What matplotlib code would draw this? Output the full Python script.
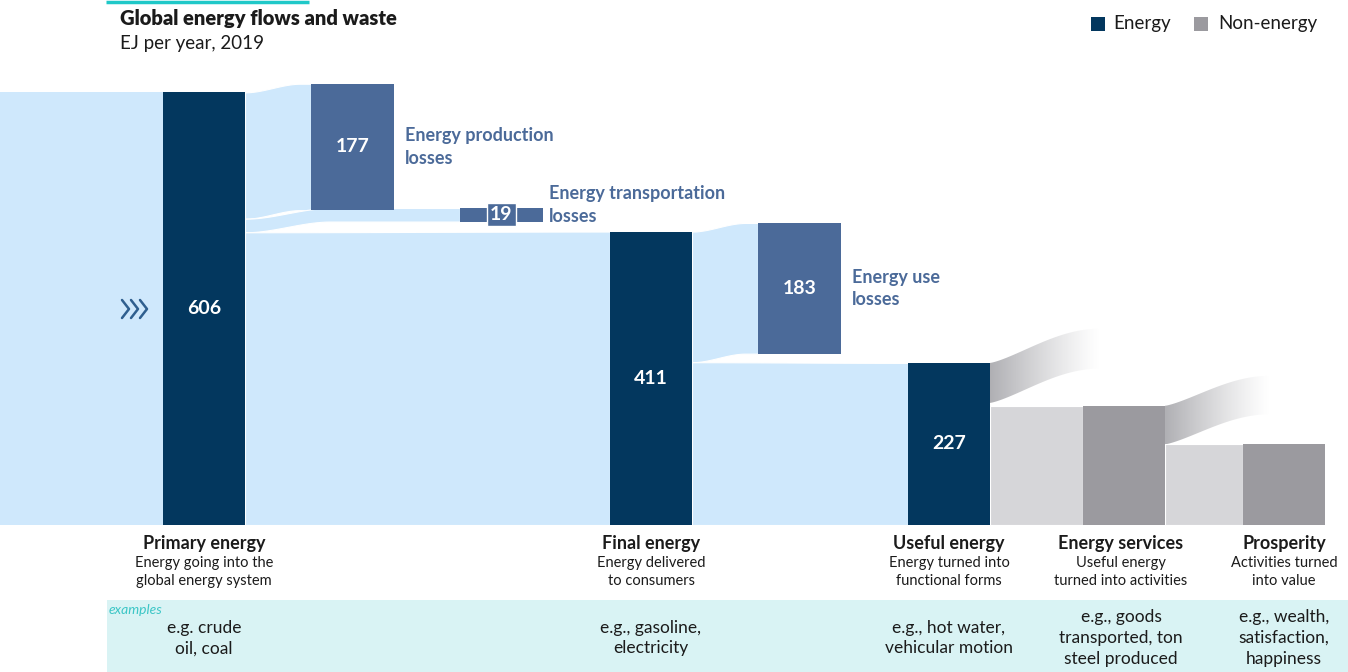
import numpy as np
import matplotlib
matplotlib.use("Agg")
import matplotlib.pyplot as plt
from matplotlib.patches import Polygon, Rectangle

plt.rcParams['font.family'] = ['Lato', 'DejaVu Sans']

# data (EJ per year, 2019)
stages = ['Primary energy', 'Final energy', 'Useful energy', 'Energy services', 'Prosperity']
stage_values = [606, 411, 227, 167, 113]   # last two unlabeled
stage_labeled = [True, True, True, False, False]
stage_desc = ['Energy going into the\nglobal energy system',
              'Energy delivered\nto consumers',
              'Energy turned into\nfunctional forms',
              'Useful energy\nturned into activities',
              'Activities turned\ninto value']
stage_examples = ['e.g. crude\noil, coal',
                  'e.g., gasoline,\nelectricity',
                  'e.g., hot water,\nvehicular motion',
                  'e.g., goods\ntransported, ton\nsteel produced',
                  'e.g., wealth,\nsatisfaction,\nhappiness']
loss_names = ['Energy production\nlosses', 'Energy transportation\nlosses', 'Energy use\nlosses']
loss_values = [177, 19, 183]

NAVY = '#03375e'
LOSS = '#4b6a99'
FLOW = '#cfe8fc'
GFLOW = '#d6d6d9'
GBAR = '#9b9a9f'
TXT = '#1b1b1b'

# layout (pixels across, EJ up)
K = 0.714          # px per EJ
BASE = 525         # baseline pixel row
def py(p):
    return (BASE - p) / K

stage_x = [163, 610, 908, 1083, 1243]
loss_x = [311, 460, 758]
W = 82
rise = 12

fig = plt.figure(figsize=(13.48, 6.72), dpi=100)
ax = fig.add_axes([0, 0, 1, 1])
ax.set_xlim(0, 1348)
ax.set_ylim(py(672), py(0))
ax.axis('off')


def band(x0, x1, b0, b1, h0, h1, xr=None, color=FLOW, edge='white', z=1):
    xs = np.linspace(x0, x1, 300)
    if xr is None:
        xr = x1
    t = np.clip((xs - x0) / (xr - x0), 0, 1)
    s = t * t * (3 - 2 * t)
    bot = b0 + (b1 - b0) * s
    top = bot + h0 + (h1 - h0) * s
    ax.fill_between(xs, bot, top, facecolor=color, edgecolor=edge, lw=0.8, zorder=z)
    return xs, bot, top


def fade(x0, x1, b0, h, up):
    xs = np.linspace(x0, x1, 300)
    t = (xs - x0) / (x1 - x0)
    s = np.sin(t * np.pi / 2) ** 1.3
    bot = b0 + up * s
    top = bot + h
    verts = np.vstack([np.column_stack([xs, bot]), np.column_stack([xs[::-1], top[::-1]])])
    poly = Polygon(verts, closed=True, fc='none', ec='none')
    ax.add_patch(poly)
    grad = np.zeros((2, 256, 4))
    grad[..., :3] = np.array([0.62, 0.62, 0.64])
    grad[..., 3] = np.linspace(0.85, 0.0, 256) ** 1.2
    im = ax.imshow(grad, extent=[x0, x1, bot.min(), top.max()], aspect='auto',
                   origin='lower', interpolation='bilinear', zorder=1)
    im.set_clip_path(poly)


# inflow into primary
ax.add_patch(Rectangle((0, 0), stage_x[0], stage_values[0], fc=FLOW, ec='none', zorder=0))
for xc in [122, 131, 140]:
    ax.plot([xc, xc + 7, xc], [py(300), py(309), py(318)], color='#2f5f8f', lw=1.8,
            solid_capstyle='round', solid_joinstyle='round', zorder=2)

# energy flows
p_end = stage_x[0] + W
prod_b0 = stage_values[0] - loss_values[0]
band(p_end, loss_x[0], prod_b0, prod_b0 + rise, loss_values[0], loss_values[0], xr=300)
trans_b0 = prod_b0 - loss_values[1]
band(p_end, loss_x[1], trans_b0, trans_b0 + rise + 3, loss_values[1], loss_values[1], xr=330)
band(p_end, stage_x[1], 0, 0, trans_b0, stage_values[1], xr=stage_x[1])

f_end = stage_x[1] + W
use_b0 = stage_values[1] - loss_values[2]
band(f_end, loss_x[2], use_b0, use_b0 + rise, loss_values[2], loss_values[2], xr=745)
band(f_end, stage_x[2], 0, 0, use_b0, stage_values[2], xr=stage_x[2])

# non-energy flows
band(stage_x[2] + W, stage_x[3], 0, 0, stage_values[3], stage_values[3], color=GFLOW)
band(stage_x[3] + W, stage_x[4], 0, 0, stage_values[4], stage_values[4], color=GFLOW)
fade(stage_x[2] + W, stage_x[2] + W + 110, stage_values[3] + 4,
     stage_values[2] - stage_values[3] - 4, 48)
fade(stage_x[3] + W, stage_x[3] + W + 105, stage_values[4],
     stage_values[3] - stage_values[4], 42)
ax.set_xlim(0, 1348)
ax.set_ylim(py(672), py(0))

# stage bars
for i, (x, v) in enumerate(zip(stage_x, stage_values)):
    col = NAVY if i < 3 else GBAR
    ax.bar(x, v, width=W, bottom=0, align='edge', color=col, zorder=3)
    if stage_labeled[i]:
        ax.text(x + W / 2, v / 2, str(v), color='white', fontsize=14, fontweight='bold',
                ha='center', va='center', zorder=4)

# loss bars
loss_bottoms = [prod_b0 + rise, trans_b0 + rise + 3, use_b0 + rise]
for i, (x, v, b) in enumerate(zip(loss_x, loss_values, loss_bottoms)):
    ax.bar(x, v, width=83, bottom=b, align='edge', color=LOSS, zorder=3)
    if v > 50:
        ax.text(x + 41.5, b + v / 2, str(v), color='white', fontsize=14, fontweight='bold',
                ha='center', va='center', zorder=4)
    else:
        ax.text(x + 41.5, b + v / 2, str(v), color='white', fontsize=14, fontweight='bold',
                ha='center', va='center', zorder=4,
                bbox=dict(boxstyle='square,pad=0.15', fc=LOSS, ec='white', lw=1))
    ny = b + v / 2 if v > 50 else b + v / 2 + 14
    ax.text(x + 94 if v > 50 else x + 89, ny, loss_names[i], color=LOSS, fontsize=13,
            fontweight='bold', ha='left', va='center', linespacing=1.4, zorder=4)

# stage labels
centers = [204, 651, 949, 1121, 1284]
ax.add_patch(Rectangle((107, py(672)), 1348 - 107, py(600) - py(672), fc='#d9f3f4',
                       ec='none', zorder=0))
ax.text(109, py(610), 'examples', color='#3cc6c6', fontsize=10, style='italic',
        ha='left', va='center')
for c, name, desc, ex in zip(centers, stages, stage_desc, stage_examples):
    ax.text(c, py(544), name, color=TXT, fontsize=13, fontweight='bold', ha='center', va='center')
    ax.text(c, py(572), desc, color=TXT, fontsize=10.5, ha='center', va='center', linespacing=1.3)
    ax.text(c, py(638), ex, color=TXT, fontsize=12.5, ha='center', va='center', linespacing=1.35)

# title
ax.plot([106, 309], [py(2), py(2)], color='#1fc8c8', lw=2.5, solid_capstyle='butt')
ax.text(120, py(18), 'Global energy flows and waste', color=TXT, fontsize=14.5,
        fontweight='heavy', ha='left', va='center')
ax.text(120, py(43), 'EJ per year, 2019', color=TXT, fontsize=13.5, ha='left', va='center')

# legend
ax.add_patch(Rectangle((1091, py(31)), 14, 14 / K, fc=NAVY, ec='none'))
ax.text(1113, py(24), 'Energy', color=TXT, fontsize=13.5, ha='left', va='center')
ax.add_patch(Rectangle((1194, py(31)), 14, 14 / K, fc=GBAR, ec='none'))
ax.text(1218, py(24), 'Non-energy', color=TXT, fontsize=13.5, ha='left', va='center')

fig.savefig('out.png', dpi=100)
